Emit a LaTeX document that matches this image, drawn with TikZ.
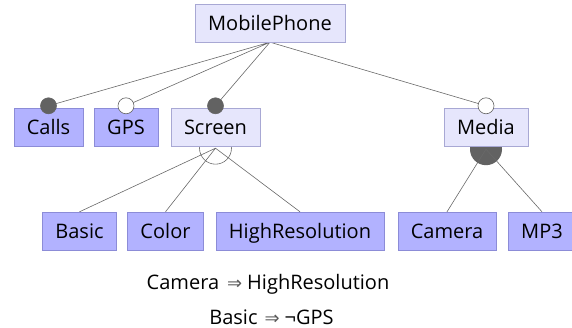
\documentclass[tikz,border=0pt]{standalone}
\usepackage{fontspec}
\setmainfont{Open Sans}
\newfontfamily\symfont{DejaVu Sans}
\usetikzlibrary{positioning, backgrounds}
\definecolor{featfill}{RGB}{230,230,252}
\definecolor{featline}{RGB}{168,168,212}
\definecolor{leaffill}{RGB}{178,178,255}
\definecolor{leafline}{RGB}{140,140,215}
\definecolor{edgegray}{RGB}{105,105,105}
\definecolor{dotgray}{RGB}{98,98,98}
\definecolor{implgray}{RGB}{90,90,90}

\begin{document}
\begin{tikzpicture}[
        node distance=104pt, on grid,
        every node/.style={font=\fontsize{20}{24}\selectfont},
        feature/.style={draw=featline, fill=featfill, minimum height=38pt,
          inner xsep=13pt, text height=14.3pt, text depth=0pt},
        leaf/.style={feature, draw=leafline, fill=leaffill},
        edge/.style={draw=edgegray, line width=0.6pt},
        mandatory/.style={circle, draw=dotgray, fill=dotgray, line width=0.6pt,
          minimum size=16pt, inner sep=0pt},
        optional/.style={mandatory, fill=white},
        ]

        \useasboundingbox (-270pt,23pt) rectangle (302pt,-305pt);

        % features
        \node[feature]  (phone)                                      {MobilePhone};
        \node[feature]  (screen)  [below left=104pt and 54.5pt of phone] {Screen};
        \node[leaf]     (gps)     [left=89.5pt of screen]            {GPS};
        \node[leaf]     (calls)   [left=77.5pt of gps]               {Calls};
        \node[feature]  (media)   [below right=104pt and 216pt of phone] {Media};
        \node[leaf]     (color)   [below left=104pt and 50pt of screen] {Color};
        \node[leaf]     (basic)   [left=86pt of color]               {Basic};
        \node[leaf]     (highres) [right=134.5pt of color]           {HighResolution};
        \node[leaf]     (camera)  [right=147pt of highres]           {Camera};
        \node[leaf]     (mp3)     [right=95pt of camera]             {MP3};

        % groups
        \coordinate (screengrp) at ([yshift=-2pt]screen.south);
        \coordinate (mediagrp)  at ([yshift=-3pt]media.south);

        % mandatory / optional markers
        \node[mandatory] (callsdot)  at ([yshift=2pt]calls.north)  {};
        \node[optional]  (gpsdot)    at ([yshift=2pt]gps.north)    {};
        \node[mandatory] (screendot) at ([yshift=2pt]screen.north) {};
        \node[optional]  (mediadot)  at ([yshift=2pt]media.north)  {};

        \begin{scope}[on background layer]
          \path[edge] (phone.south) -- (callsdot.center)
            (phone.south) -- (gpsdot.center)
            (phone.south) -- (screendot.center)
            (phone.south) -- (mediadot.center);
          \draw[edge] (screengrp) circle[radius=16pt];
          \path[edge] (screengrp) -- (basic.north)
            (screengrp) -- (color.north)
            (screengrp) -- (highres.north);
          \fill[dotgray] (mediagrp) circle[radius=16pt];
          \path[edge] (mediagrp) -- (camera.north)
            (mediagrp) -- (mp3.north);
        \end{scope}

        % cross-tree constraints
        \node[anchor=base] (rule1) at (-2pt,-266pt)
          {Camera\hspace*{8pt}{\symfont\fontsize{18}{22}\selectfont\color{implgray}⇒}\hspace*{5pt}HighResolution};
        \node[anchor=base] (rule2) at (1.5pt,-301pt)
          {Basic\hspace*{7pt}{\symfont\fontsize{18}{22}\selectfont\color{implgray}⇒}\hspace*{5pt}¬GPS};
      \end{tikzpicture}
\end{document}
